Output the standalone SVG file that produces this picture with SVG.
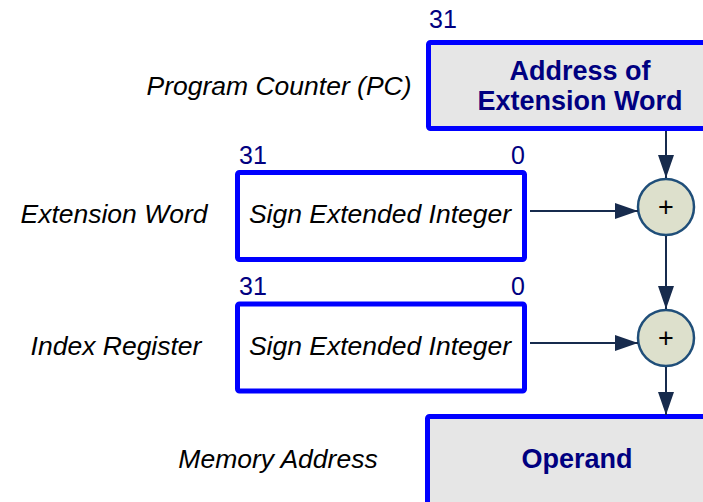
<svg xmlns="http://www.w3.org/2000/svg" width="703" height="502" viewBox="0 0 703 502">
<style>
.lbl{font-family:"Liberation Sans",Arial,sans-serif;font-size:26.5px;font-style:italic;fill:#000}
.num{font-family:"Liberation Sans",Arial,sans-serif;font-size:25px;fill:#000080}
.bold{font-family:"Liberation Sans",Arial,sans-serif;font-size:27px;font-weight:bold;fill:#000080}
.reg{fill:#e6e6e6;stroke:#0000ff;stroke-width:5}
.wbox{fill:#fff;stroke:#0000ff;stroke-width:5}
.add{fill:#dde0cc;stroke:#1f4e79;stroke-width:2.5}
.plus{font-family:"Liberation Sans",Arial,sans-serif;font-size:27px;fill:#000}
.conn{stroke:#172b4d;stroke-width:2;fill:none}
</style>
<defs>
<marker id="ah" viewBox="0 0 23 16" refX="23" refY="8" markerWidth="23" markerHeight="16" markerUnits="userSpaceOnUse" orient="auto">
<path d="M0,0 L23,8 L0,16 Z" fill="#172b4d"/>
</marker>
</defs>
<g id="pc">
<text class="lbl" x="279" y="95" text-anchor="middle">Program Counter (PC)</text>
<text class="num" x="429" y="28">31</text>
<rect class="reg" x="428.5" y="42.5" width="300" height="86" rx="2"/>
<text class="bold" x="580" y="80" text-anchor="middle">Address of</text>
<text class="bold" x="580" y="110" text-anchor="middle">Extension Word</text>
</g>
<g id="extword">
<text class="lbl" x="114" y="223" text-anchor="middle">Extension Word</text>
<text class="num" x="239" y="164">31</text>
<text class="num" x="525" y="164" text-anchor="end">0</text>
<rect class="wbox" x="237.5" y="172.5" width="287" height="87" rx="2"/>
<text class="lbl" x="380" y="223" text-anchor="middle">Sign Extended Integer</text>
</g>
<g id="index">
<text class="lbl" x="116" y="355" text-anchor="middle">Index Register</text>
<text class="num" x="239" y="295">31</text>
<text class="num" x="525" y="295" text-anchor="end">0</text>
<rect class="wbox" x="237.5" y="304" width="287" height="87" rx="2"/>
<text class="lbl" x="380" y="355" text-anchor="middle">Sign Extended Integer</text>
</g>
<g id="mem">
<text class="lbl" x="278" y="468" text-anchor="middle">Memory Address</text>
<rect class="reg" x="427.5" y="416.5" width="300" height="100" rx="2"/>
<text class="bold" x="577" y="468" text-anchor="middle">Operand</text>
</g>
<g id="add1">
<circle class="add" cx="666" cy="207" r="28"/>
<text class="plus" x="666" y="216" text-anchor="middle">+</text>
</g>
<g id="add2">
<circle class="add" cx="666" cy="338" r="28"/>
<text class="plus" x="666" y="347" text-anchor="middle">+</text>
</g>
<g id="connectors">
<line class="conn" x1="666" y1="131" x2="666" y2="178" marker-end="url(#ah)"/>
<line class="conn" x1="530" y1="211" x2="638" y2="211" marker-end="url(#ah)"/>
<line class="conn" x1="666" y1="236" x2="666" y2="309" marker-end="url(#ah)"/>
<line class="conn" x1="530" y1="343" x2="638" y2="343" marker-end="url(#ah)"/>
<line class="conn" x1="666" y1="367" x2="666" y2="415" marker-end="url(#ah)"/>
</g>
</svg>
